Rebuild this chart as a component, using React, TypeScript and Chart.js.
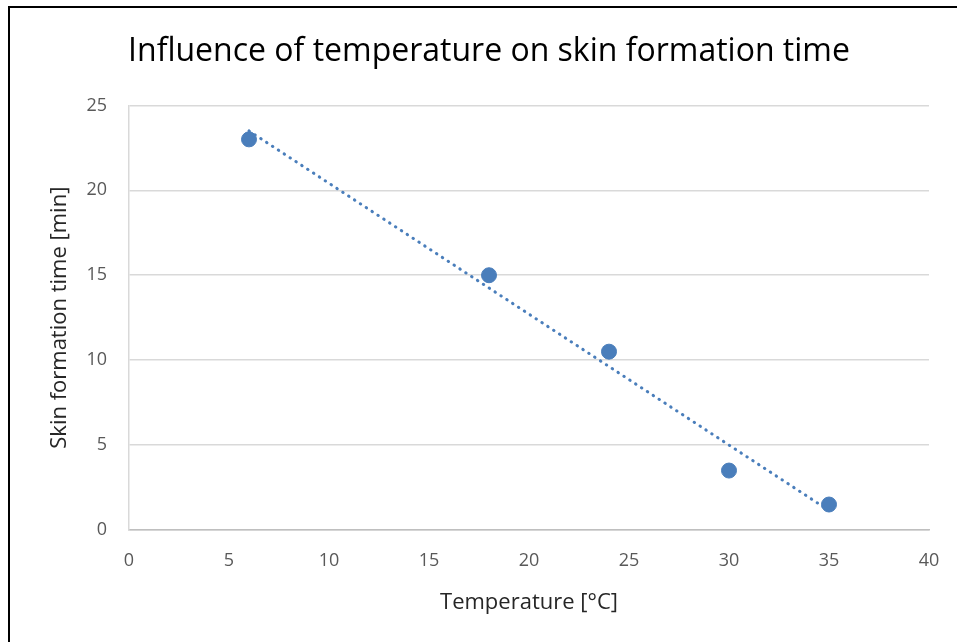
import React, { useEffect, useRef } from "react";
import { Chart, registerables } from "chart.js";

Chart.register(...registerables);

const temperatures = [6, 18, 24, 30, 35];
const skinTimes = [23, 15, 10.5, 3.5, 1.5];
const trendX = [6, 35];
const trendY = [23.5, 1.15];
const titleText = "Influence of temperature on skin formation time";
const xTitle = "Temperature [°C]";
const yTitle = "Skin formation time [min]";

const BLUE = "#4a7ebb";
const FONT = "'Open Sans', 'Noto Sans', sans-serif";

export default function App() {
  const ref = useRef<HTMLCanvasElement | null>(null);

  useEffect(() => {
    if (!ref.current) return;
    const chart = new Chart(ref.current, {
      type: "scatter",
      data: {
        datasets: [
          {
            type: "line",
            label: "Trend",
            data: trendX.map((x, i) => ({ x, y: trendY[i] })),
            borderColor: BLUE,
            borderWidth: 3,
            borderDash: [0.5, 6.5],
            borderCapStyle: "round",
            pointRadius: 0,
            fill: false,
          } as any,
          {
            label: "Skin formation time",
            data: temperatures.map((x, i) => ({ x, y: skinTimes[i] })),
            backgroundColor: BLUE,
            borderColor: BLUE,
            pointRadius: 7.5,
            pointHoverRadius: 7.5,
          },
        ],
      },
      options: {
        responsive: false,
        animation: false,
        layout: { padding: { left: 49, right: 51, top: 0, bottom: 0 } },
        plugins: {
          legend: { display: false },
          tooltip: { enabled: false },
          title: {
            display: true,
            text: titleText,
            color: "#000000",
            font: { family: FONT, size: 32, weight: "normal" },
            padding: { top: 33, bottom: 34 },
          },
        },
        scales: {
          x: {
            type: "linear",
            min: 0,
            max: 40,
            afterFit: (s: any) => {
              s.height = 112;
            },
            ticks: {
              stepSize: 5,
              color: "#595959",
              font: { family: FONT, size: 18 },
              padding: 20,
            },
            grid: { color: "transparent", drawTicks: false },
            border: { display: true, color: "#bfbfbf", width: 1.5 },
            title: {
              display: true,
              text: xTitle,
              color: "#262626",
              font: { family: FONT, size: 22 },
              padding: { top: 0, bottom: 26 },
            },
          },
          y: {
            type: "linear",
            min: 0,
            max: 25,
            afterFit: (s: any) => {
              s.width = 80;
            },
            ticks: {
              stepSize: 5,
              color: "#595959",
              font: { family: FONT, size: 18 },
              padding: 22,
            },
            grid: { color: "#d9d9d9", lineWidth: 1.5, drawTicks: false },
            border: { display: true, color: "#d9d9d9", width: 1.5 },
            title: {
              display: true,
              text: yTitle,
              color: "#262626",
              font: { family: FONT, size: 22 },
              padding: { top: -2, bottom: 0 },
            },
          },
        },
      },
    });
    return () => chart.destroy();
  }, []);

  return (
    <div
      style={{
        position: "fixed",
        left: 0,
        top: 0,
        width: 957,
        height: 642,
        overflow: "hidden",
        background: "#ffffff",
      }}
    >
      <canvas
        ref={ref}
        width={980}
        height={642}
        style={{ position: "absolute", left: 0, top: 0, width: 980, height: 642 }}
      />
      <div
        style={{
          position: "absolute",
          left: 8,
          top: 6,
          width: 1100,
          height: 800,
          border: "2px solid #000000",
          pointerEvents: "none",
        }}
      />
    </div>
  );
}
